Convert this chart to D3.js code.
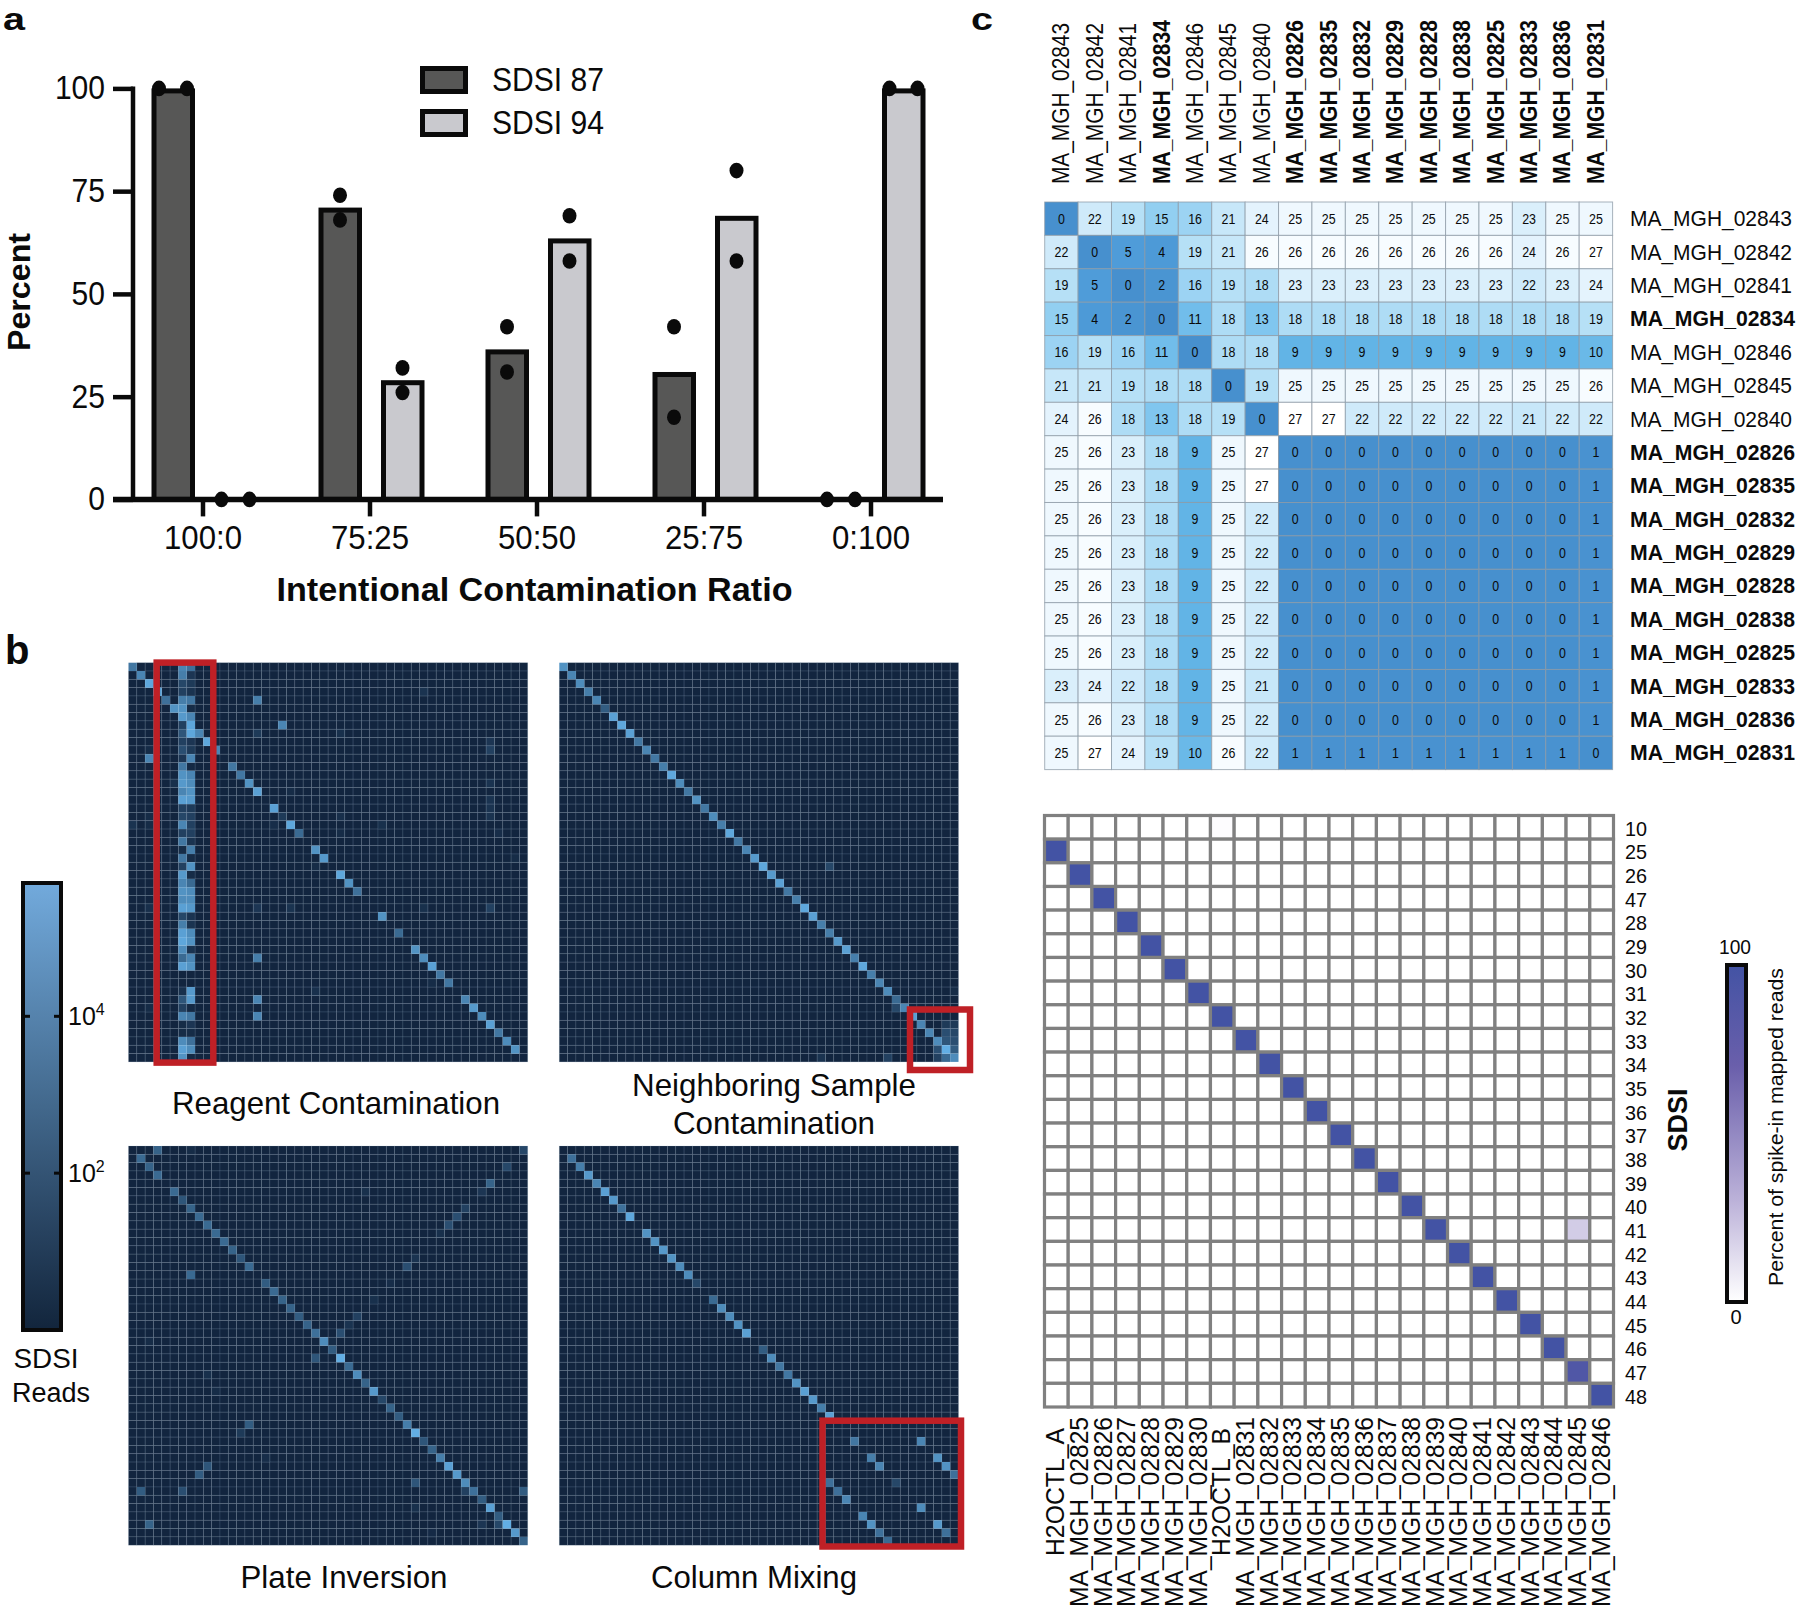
<!DOCTYPE html>
<html><head><meta charset="utf-8">
<script src="https://cdn.jsdelivr.net/npm/d3@7"></script>
<style>html,body{margin:0;padding:0;background:#fff}svg{display:block}text{font-family:"Liberation Sans",Arial,sans-serif;fill:#0a0a0a}</style>
</head><body><svg id="c" width="1800" height="1611"></svg>
<script>
// ---------- Panel a data ----------
const ratios = ["100:0","75:25","50:50","25:75","0:100"];
const yTicksA = [0,25,50,75,100];
const sdsi87Reps = [[100,100],[74,68],[42,31],[42,20],[0,0]];
const sdsi94Reps = [[0,0],[32,26],[69,58],[80,58],[100,100]];
const sdsi87Means = [100,71,36.5,31,0];
const sdsi94Means = [0,29,63.5,69,100];
const legendA = ["SDSI 87","SDSI 94"];

// ---------- Panel b data: [row, col, log-intensity 0..1] ----------
const reagentDiag = [[0,0,.6],[1,1,.7],[2,2,.95],[3,3,.9],[4,4,.55],[5,5,.8],[6,6,.85],[7,7,.95],[8,8,.7],[9,9,.95],[10,10,.7],[11,2,.7],[12,12,.6],[13,13,.6],[14,14,.8],[15,15,.9],[17,17,.9],[19,19,.95],[20,20,.5],[22,22,.8],[23,23,.85],[25,25,.95],[26,26,.8],[27,27,.55],[30,30,.8],[32,32,.5],[34,34,.8],[35,35,.75],[36,36,.9],[37,37,.6],[38,38,.6],[40,40,.7],[41,41,.85],[42,42,.75],[43,43,.9],[44,44,.6],[45,45,.75],[46,46,.8]];
const reagentCol6 = [.7,.65,.25,.2,.65,.8,.85,.2,.35,.2,.3,.12,.6,.8,.85,.7,.9,.2,.25,.7,.2,.6,.05,.6,.2,.85,.7,.8,.75,.9,.25,.65,.9,.95,.75,.5,.9,0,0,.08,.35,.2,.7,.05,.05,.75,.9,.8];
const reagentCol7 = [.55,.12,.15,.1,.6,.05,.7,.95,.95,.12,.15,.7,.03,.7,.75,.8,.85,.15,.2,.2,.2,.1,.65,.05,.8,.05,.5,.75,.75,.85,.1,.1,.75,.8,.1,.7,.8,0,0,.85,.85,.03,.6,.12,.05,.55,.75,.03];
const reagentOther = [[4,15,.65],[7,18,.7],[35,15,.65],[40,15,.7],[42,15,.7],[3,35,.1],[9,43,.12],[10,43,.2],[8,15,.15],[8,25,.08],[14,43,.1],[15,19,.05],[16,43,.1],[17,43,.1],[18,43,.1],[18,18,.15],[18,25,.07],[19,17,.06],[19,30,.08],[20,25,.05],[20,44,.06],[23,46,.05],[24,22,.05],[29,15,.12],[29,19,.1],[29,35,.08],[29,43,.2],[29,2,.07],[14,5,.08],[10,2,.05],[18,2,.05],[19,0,.1],[19,2,.05],[38,36,.05],[39,22,.08],[41,2,.05]];
const neighborDiag = [.8,.7,.75,.65,.7,.4,.9,.95,.9,.6,.7,.6,.65,.95,.75,.6,.8,.6,.75,.65,.95,.6,.7,.85,.95,.85,.9,.6,.65,.95,.9,.65,.65,.85,.9,.65,.95,.65,.7,.75,.5,.7,.9,.7,.7,.75,1,.75];
const neighborOther = [[24,32,.25],[41,40,.25],[39,47,.05],[47,31,.1],[47,39,.2],[43,46,.15],[43,47,.15],[44,46,.3],[44,47,.25],[45,46,.35],[45,47,.3],[46,45,.3],[46,47,.4],[47,45,.2],[47,46,.5]];
const inversionCells = [[0,3,.45],[1,1,.5],[2,2,.45],[3,3,.5],[5,5,.5],[6,6,.35],[7,7,.45],[8,8,.5],[9,9,.5],[10,10,.5],[11,11,.5],[12,12,.45],[13,13,.35],[14,14,.5],[15,7,.5],[16,16,.4],[17,17,.5],[18,18,.45],[19,19,.45],[20,20,.4],[21,21,.45],[22,22,.55],[23,23,.75],[24,24,.4],[25,25,1],[26,26,.5],[27,27,.75],[28,28,.45],[29,29,.85],[30,30,.25],[31,31,.45],[32,32,.4],[33,33,.65],[34,34,1],[35,35,.35],[36,36,.45],[37,37,.65],[38,38,.9],[39,39,.85],[40,40,.75],[41,41,.55],[42,42,.4],[43,43,.9],[44,44,.4],[45,45,1],[46,46,.85],[47,47,.45],[0,7,.05],[0,47,.25],[2,45,.25],[4,43,.45],[5,42,.12],[5,28,.08],[7,40,.2],[8,39,.3],[9,38,.3],[10,37,.08],[13,34,.1],[14,33,.3],[16,31,.06],[18,29,.08],[20,27,.2],[21,26,.1],[22,25,.3],[23,2,.05],[23,24,.05],[25,22,.35],[27,9,.08],[29,10,.05],[33,14,.4],[34,13,.15],[37,16,.06],[38,9,.35],[39,8,.4],[40,34,.35],[41,1,.4],[41,6,.3],[41,40,.2],[41,47,.4],[43,34,.08],[45,42,.12],[45,44,.25],[45,2,.45],[46,36,.04]];
const mixingCells = [[1,1,.55],[2,2,.65],[3,3,.85],[4,4,.7],[5,5,.9],[6,6,.85],[7,7,.55],[8,8,.95],[10,10,.8],[11,11,.8],[12,12,.85],[13,13,.8],[14,14,.75],[15,15,.75],[16,16,.25],[18,18,.5],[19,19,.75],[20,20,.75],[21,21,.8],[22,22,.9],[24,24,.4],[25,25,.75],[26,26,.6],[27,27,.6],[28,28,.8],[29,29,.9],[30,30,.85],[31,31,.65],[32,32,.9],[35,35,.6],[35,43,.7],[37,37,.65],[37,45,.8],[38,38,.7],[38,46,.8],[39,47,.55],[40,32,.55],[40,40,.25],[41,33,.55],[42,34,.7],[43,43,.75],[44,36,.7],[45,37,.8],[45,45,.85],[46,38,.55],[46,46,.55],[47,39,.5]];
const readTicks = [2,4];

// ---------- Panel c data ----------
const distNames = ["02843","02842","02841","02834","02846","02845","02840","02826","02835","02832","02829","02828","02838","02825","02833","02836","02831"];
const distBold = ["02834","02826","02835","02832","02829","02828","02838","02825","02833","02836","02831"];
const distMatrix = [
[0,22,19,15,16,21,24,25,25,25,25,25,25,25,23,25,25],
[22,0,5,4,19,21,26,26,26,26,26,26,26,26,24,26,27],
[19,5,0,2,16,19,18,23,23,23,23,23,23,23,22,23,24],
[15,4,2,0,11,18,13,18,18,18,18,18,18,18,18,18,19],
[16,19,16,11,0,18,18,9,9,9,9,9,9,9,9,9,10],
[21,21,19,18,18,0,19,25,25,25,25,25,25,25,25,25,26],
[24,26,18,13,18,19,0,27,27,22,22,22,22,22,21,22,22],
[25,26,23,18,9,25,27,0,0,0,0,0,0,0,0,0,1],
[25,26,23,18,9,25,27,0,0,0,0,0,0,0,0,0,1],
[25,26,23,18,9,25,22,0,0,0,0,0,0,0,0,0,1],
[25,26,23,18,9,25,22,0,0,0,0,0,0,0,0,0,1],
[25,26,23,18,9,25,22,0,0,0,0,0,0,0,0,0,1],
[25,26,23,18,9,25,22,0,0,0,0,0,0,0,0,0,1],
[25,26,23,18,9,25,22,0,0,0,0,0,0,0,0,0,1],
[23,24,22,18,9,25,21,0,0,0,0,0,0,0,0,0,1],
[25,26,23,18,9,25,22,0,0,0,0,0,0,0,0,0,1],
[25,27,24,19,10,26,22,1,1,1,1,1,1,1,1,1,0]];
const spikeCols = ["H2OCTL_A","MA_MGH_02825","MA_MGH_02826","MA_MGH_02827","MA_MGH_02828","MA_MGH_02829","MA_MGH_02830","H2OCTL_B","MA_MGH_02831","MA_MGH_02832","MA_MGH_02833","MA_MGH_02834","MA_MGH_02835","MA_MGH_02836","MA_MGH_02837","MA_MGH_02838","MA_MGH_02839","MA_MGH_02840","MA_MGH_02841","MA_MGH_02842","MA_MGH_02843","MA_MGH_02844","MA_MGH_02845","MA_MGH_02846"];
const spikeRows = ["10","25","26","47","28","29","30","31","32","33","34","35","36","37","38","39","40","41","42","43","44","45","46","47","48"];
const spikeCells = [[0,7,1],[1,0,100],[2,1,100],[3,2,100],[4,3,100],[5,4,100],[6,5,100],[7,6,100],[8,7,100],[9,8,100],[10,9,100],[11,10,100],[12,11,100],[13,12,100],[14,13,100],[15,14,100],[16,15,100],[17,16,100],[17,22,20],[18,17,100],[19,18,100],[20,19,100],[21,20,100],[22,21,100],[23,22,90],[24,23,100]];

const svg = d3.select("#c");
const defs = svg.append("defs");
function label(g,x,y,str,size,opt={}){
  const t=g.append("text").attr("x",x).attr("y",y).attr("font-size",size).text(str)
    .attr("text-anchor",opt.anchor||"start");
  if(opt.bold) t.attr("font-weight","bold");
  if(opt.width) t.attr("textLength",opt.width).attr("lengthAdjust","spacingAndGlyphs");
  if(opt.rot) t.attr("transform",`rotate(-90 ${x} ${y})`);
  return t;
}
// panel letters
label(svg,3,29.5,"a",32,{bold:true,width:22});
label(svg,5,664,"b",40,{bold:true});
label(svg,971,29.5,"c",32,{bold:true,width:22});

// ---------- a ----------
(function(){
  const g=svg.append("g");
  const x=d3.scaleBand().domain(ratios).range([119.5,954.5]).paddingInner(0).paddingOuter(0);
  const inner=d3.scalePoint().domain(legendA).range([-30,32.5]);
  const y=d3.scaleLinear().domain([0,100]).range([499.4,88.4]);
  const fills={[legendA[0]]:"#575756",[legendA[1]]:"#c9c9ce"};
  const cx=(r,s)=>x(r)+x.bandwidth()/2+inner(s);
  const series=[[legendA[0],sdsi87Means,sdsi87Reps],[legendA[1],sdsi94Means,sdsi94Reps]];
  series.forEach(([s,means,reps])=>{
    ratios.forEach((r,i)=>{
      if(means[i]>0) g.append("rect").attr("x",cx(r,s)-19).attr("width",38.5).attr("y",y(means[i])+2.5).attr("height",y(0)-y(means[i])-2.5)
        .attr("fill",fills[s]).attr("stroke","#0a0a0a").attr("stroke-width",5);
    });
  });
  // axes
  const ay=g.append("g").attr("transform","translate(133,0)").call(d3.axisLeft(y).tickValues(yTicksA).tickSize(20).tickPadding(8));
  ay.select(".domain").attr("stroke","#0a0a0a").attr("stroke-width",4.5).attr("d",`M0,${y(100)-2}V${y(0)}`);
  ay.selectAll(".tick line").attr("stroke","#0a0a0a").attr("stroke-width",4.5);
  ay.selectAll("text").attr("font-size",33).attr("font-family",null).attr("textLength",d=>String(d).length*16.7).attr("lengthAdjust","spacingAndGlyphs");
  const ax=g.append("g").attr("transform",`translate(0,${y(0)})`).call(d3.axisBottom(x).tickSize(17));
  ax.select(".domain").attr("stroke","#0a0a0a").attr("stroke-width",5.5).attr("d","M113,0H943");
  ax.selectAll(".tick line").attr("stroke","#0a0a0a").attr("stroke-width",4.5);
  ax.selectAll("text").attr("font-size",33).attr("y",50).attr("dy",0).attr("font-family",null).attr("textLength",78).attr("lengthAdjust","spacingAndGlyphs");
  // dots
  series.forEach(([s,means,reps])=>{
    ratios.forEach((r,i)=>{
      const same=reps[i][0]===reps[i][1];
      reps[i].forEach((v,k)=>{
        g.append("ellipse").attr("cx",cx(r,s)+(same?(k?14:-14):0)).attr("cy",y(v)).attr("rx",7).attr("ry",7.8).attr("fill","#0a0a0a");
      });
    });
  });
  // legend
  const lg=g.append("g");
  legendA.forEach((s,i)=>{
    const yy=[68.5,111.5][i];
    lg.append("rect").attr("x",422.5).attr("y",yy).attr("width",43).attr("height",23).attr("fill",fills[s]).attr("stroke","#0a0a0a").attr("stroke-width",5);
    label(lg,492,[91,134][i],s,33,{width:112});
  });
  label(g,534.5,601,"Intentional Contamination Ratio",34,{bold:true,anchor:"middle",width:516});
  label(g,29.5,292,"Percent",32,{bold:true,anchor:"middle",rot:true,width:118});
})();

// ---------- b ----------
const heat=d3.scaleLinear().domain([0,1]).range(["#12253f","#62aee4"]);
function heatmap(x0,y0,cells){
  const n=d3.range(48);
  const b=d3.scaleBand().domain(n).range([0,399.2]);
  const g=svg.append("g").attr("transform",`translate(${x0},${y0})`);
  const m=new Map(cells.map(c=>[c[0]*48+c[1],c[2]]));
  const all=[];
  n.forEach(r=>n.forEach(c=>all.push({r,c,v:m.get(r*48+c)||0})));
  all.sort((p,q)=>p.v-q.v);
  g.selectAll("rect").data(all).join("rect")
    .attr("x",d=>b(d.c)).attr("y",d=>b(d.r)).attr("width",b.bandwidth()).attr("height",b.bandwidth())
    .attr("fill",d=>heat(d.v)).attr("stroke",d=>d.v>.3?"none":"#8ea3bd").attr("stroke-opacity",.2).attr("stroke-width",.8);
  return g;
}
const redBox=(x0,y0,x1,y1)=>svg.append("rect").attr("x",x0).attr("y",y0).attr("width",x1-x0).attr("height",y1-y0).attr("fill","none").attr("stroke","#bf2026").attr("stroke-width",6.5);
const reagent=[...reagentDiag,...reagentOther];
reagentCol6.forEach((v,r)=>{if(v>0)reagent.push([r,6,v])});
reagentCol7.forEach((v,r)=>{if(v>0)reagent.push([r,7,v])});
heatmap(128.5,662.7,reagent);
heatmap(559.3,662.7,[...neighborDiag.map((v,i)=>[i,i,v]),...neighborOther]);
heatmap(128.5,1146,inversionCells);
heatmap(559.3,1146,mixingCells);
redBox(156.7,662.6,213.3,1062.6);
redBox(910,1009.5,970,1070);
redBox(822.5,1420.7,961,1546.5);
label(svg,336,1114,"Reagent Contamination",32,{anchor:"middle",width:328});
label(svg,774,1096,"Neighboring Sample",32,{anchor:"middle",width:284});
label(svg,774,1134,"Contamination",32,{anchor:"middle",width:202});
label(svg,344,1588,"Plate Inversion",32,{anchor:"middle",width:207});
label(svg,754,1588,"Column Mixing",32,{anchor:"middle",width:206});
// read colorbar
(function(){
  const y=d3.scaleLinear().domain([0,5.7]).range([1330,883]);
  const cb=d3.scaleLinear().domain([0,1]).range(["#12253c","#72aadc"]);
  const gr=defs.append("linearGradient").attr("id","rb").attr("x1",0).attr("x2",0).attr("y1",1).attr("y2",0);
  d3.range(0,1.01,.25).forEach(t=>gr.append("stop").attr("offset",t).attr("stop-color",cb(t)));
  svg.append("rect").attr("x",23).attr("y",y(5.7)).attr("width",38).attr("height",y(0)-y(5.7)).attr("fill","url(#rb)").attr("stroke","#0a0a0a").attr("stroke-width",4);
  readTicks.forEach(t=>{
    [[23,30],[54,61]].forEach(([a,b])=>svg.append("line").attr("x1",a).attr("x2",b).attr("y1",y(t)).attr("y2",y(t)).attr("stroke","#0a0a0a").attr("stroke-width",3));
    const tx=label(svg,68,y(t)+9,"10",25);
    tx.append("tspan").attr("font-size",16).attr("dy",-10).text(t);
  });
  label(svg,46,1368,"SDSI",27,{anchor:"middle",width:65});
  label(svg,51,1402,"Reads",27,{anchor:"middle",width:78});
})();

// ---------- c distance matrix ----------
(function(){
  const x=d3.scaleBand().domain(d3.range(17)).range([1044.7,1612.6]);
  const y=d3.scaleBand().domain(d3.range(17)).range([202,769.6]);
  const col=d3.scaleLinear().domain([0,5,9,13,18,22,25,27]).range(["#4790ce","#4f9cd9","#62b4e6","#80c6ef","#aedcf5","#cfeafa","#eff8fe","#ffffff"]);
  const g=svg.append("g");
  const cells=distMatrix.flatMap((row,r)=>row.map((v,c)=>({r,c,v})));
  g.selectAll("rect").data(cells).join("rect").attr("x",d=>x(d.c)).attr("y",d=>y(d.r)).attr("width",x.bandwidth()).attr("height",y.bandwidth())
    .attr("fill",d=>col(d.v)).attr("stroke","#8c9aa6").attr("stroke-opacity",.75).attr("stroke-width",1);
  g.selectAll("text.v").data(cells).join("text").attr("class","v").attr("x",d=>x(d.c)+x.bandwidth()/2).attr("y",d=>y(d.r)+y.bandwidth()/2+5)
    .attr("text-anchor","middle").attr("font-size",14).attr("textLength",d=>String(d.v).length*6.9).attr("lengthAdjust","spacingAndGlyphs").text(d=>d.v);
  distNames.forEach((n,i)=>{
    const b=distBold.includes(n), s="MA_MGH_"+n;
    label(g,x(i)+x.bandwidth()/2+8,184,s,23,{bold:b,rot:true,width:b?164:161});
    label(g,1630,y(i)+y.bandwidth()/2+7.5,s,21.5,{bold:b,width:b?165:162});
  });
})();

// ---------- c spike-in matrix ----------
(function(){
  const x=d3.scaleBand().domain(d3.range(24)).range([1044.5,1613.5]);
  const y=d3.scaleBand().domain(d3.range(25)).range([815.5,1407]);
  const col=d3.scaleLinear().domain([0,30,70,100]).range(["#ffffff","#bcb2d9","#6a5fab","#4353a4"]);
  const g=svg.append("g");
  const m=new Map(spikeCells.map(c=>[c[0]*100+c[1],c[2]]));
  const cells=[];
  spikeRows.forEach((_,r)=>spikeCols.forEach((_,c)=>cells.push({r,c,v:m.get(r*100+c)||0})));
  g.selectAll("rect").data(cells).join("rect").attr("x",d=>x(d.c)).attr("y",d=>y(d.r)).attr("width",x.bandwidth()).attr("height",y.bandwidth())
    .attr("fill",d=>col(d.v)).attr("stroke","#808080").attr("stroke-width",3.2);
  spikeRows.forEach((s,i)=>label(g,1625,y(i)+y.bandwidth()/2+8.5,s,21,{width:22}));
  spikeCols.forEach((s,i)=>{
    const h=s.startsWith("H2O");
    label(g,x(i)+x.bandwidth()/2+8,h?1556:1607,s,26,{rot:true,width:h?128:190});
  });
  label(g,1687,1120,"SDSI",27,{bold:true,anchor:"middle",rot:true,width:63});
  const gr=defs.append("linearGradient").attr("id","sb").attr("x1",0).attr("x2",0).attr("y1",1).attr("y2",0);
  col.domain().forEach(t=>gr.append("stop").attr("offset",t/100).attr("stop-color",col(t)));
  g.append("rect").attr("x",1727).attr("y",965).attr("width",19).attr("height",337).attr("fill","url(#sb)").attr("stroke","#0a0a0a").attr("stroke-width",4);
  label(g,1735,954,"100",20,{anchor:"middle",width:32});
  label(g,1736,1324,"0",20,{anchor:"middle"});
  label(g,1783,1127,"Percent of spike-in mapped reads",20,{anchor:"middle",rot:true,width:318});
})();
</script></body></html>
